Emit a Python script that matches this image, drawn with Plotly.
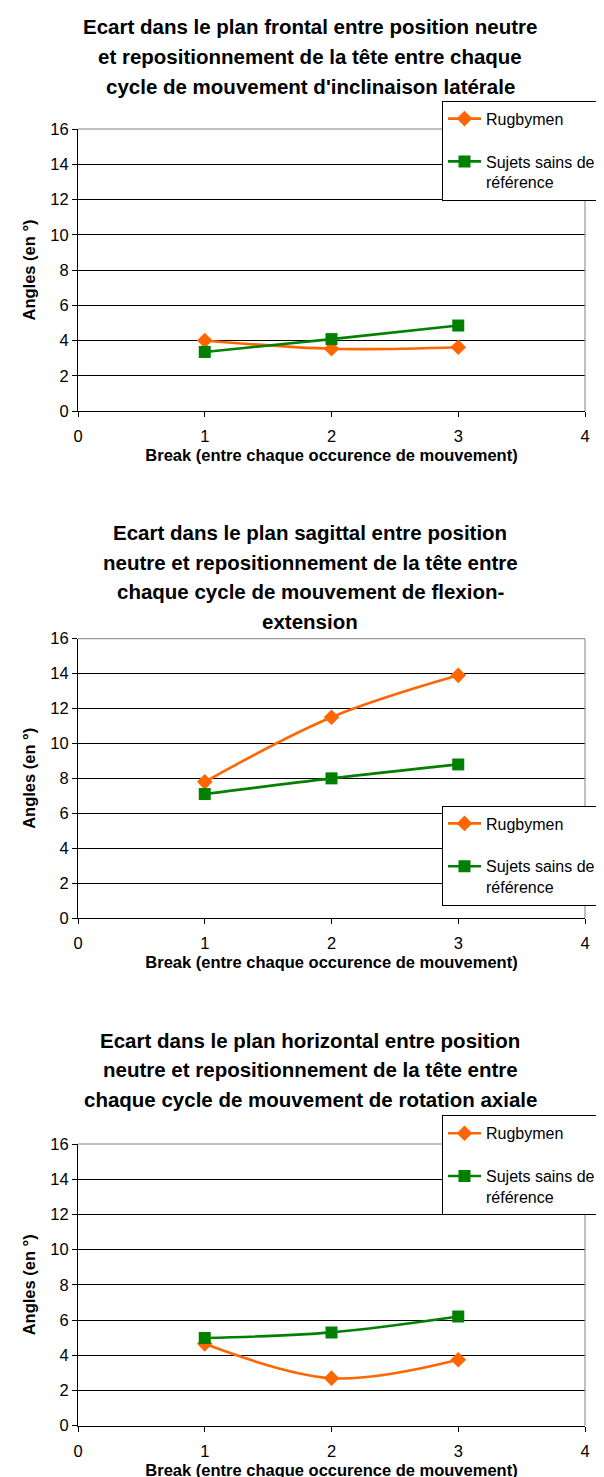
import plotly.graph_objects as go

W, H = 604, 1477
FONT = "Liberation Sans, Arial, sans-serif"

# ---- data ----
categories = [1, 2, 3]
x_ticks = [0, 1, 2, 3, 4]
y_ticks = [0, 2, 4, 6, 8, 10, 12, 14, 16]
series_names = ["Rugbymen", "Sujets sains de<br>référence"]

rugby_frontal = [4.0, 3.53, 3.62]
sains_frontal = [3.35, 4.08, 4.85]
rugby_sagittal = [7.8, 11.5, 13.9]
sains_sagittal = [7.1, 8.0, 8.8]
rugby_horizontal = [4.65, 2.7, 3.75]
sains_horizontal = [4.98, 5.3, 6.2]

titles = [
    ["Ecart dans le plan frontal entre position neutre",
     "et repositionnement de la tête entre chaque",
     "cycle de mouvement d'inclinaison latérale"],
    ["Ecart dans le plan sagittal entre position",
     "neutre et repositionnement de la tête entre",
     "chaque cycle de mouvement de flexion-",
     "extension"],
    ["Ecart dans le plan horizontal entre position",
     "neutre et repositionnement de la tête entre",
     "chaque cycle de mouvement de rotation axiale"],
]
x_title = "Break (entre chaque occurence de mouvement)"
y_title = "Angles (en °)"

panels = [
    (rugby_frontal, sains_frontal),
    (rugby_sagittal, sains_sagittal),
    (rugby_horizontal, sains_horizontal),
]

# ---- layout geometry (pixels) ----
plot_tb = [(121, 403), (630.7, 910), (1136, 1417.7)]
legend_top = [92.7, 797.5, 1107.3]
title_first = [19, 524.5, 1032]
title_step = 29.5
x_left, x_right = 70, 577

colors = ["#FF6600", "#008000"]
symbols = ["diamond", "square"]
msizes = [12, 12]

fig = go.Figure()
layout = dict(
    width=W, height=H,
    margin=dict(l=0, r=0, t=0, b=0, autoexpand=False),
    paper_bgcolor="white", plot_bgcolor="white",
    font=dict(family=FONT, color="black", size=16),
    showlegend=True,
    annotations=[], shapes=[],
)

for i, (rug, sains) in enumerate(panels):
    n = "" if i == 0 else str(i + 1)
    xa, ya = "x" + n, "y" + n
    leg = "legend" + n
    for j, vals in enumerate([rug, sains]):
        fig.add_trace(go.Scatter(
            x=categories, y=vals, name=series_names[j],
            xaxis=xa, yaxis=ya, legend=leg, legendgroup=f"g{i}{j}",
            mode="lines+markers",
            line=dict(color=colors[j], width=2.6, shape="spline", smoothing=1),
            marker=dict(color=colors[j], symbol=symbols[j], size=msizes[j],
                        line=dict(width=0)),
        ))
    top, bot = plot_tb[i]
    layout["xaxis" + n] = dict(
        domain=[x_left / W, x_right / W], anchor=ya,
        range=[0, 4], tickvals=x_ticks, ticks="outside", ticklen=5,
        tickcolor="black", showline=True, linecolor="black", linewidth=1,
        showgrid=False, zeroline=False, fixedrange=True,
        tickfont=dict(size=16.5), ticklabelstandoff=5,
        title=dict(text="<b>" + x_title + "</b>", font=dict(size=16.5), standoff=5),
    )
    layout["yaxis" + n] = dict(
        domain=[1 - bot / H, 1 - top / H], anchor=xa,
        range=[0, 16], tickvals=y_ticks, ticks="outside", ticklen=5,
        tickcolor="black", showline=True, linecolor="black", linewidth=1,
        showgrid=True, gridcolor="black", gridwidth=1, zeroline=False,
        fixedrange=True, tickfont=dict(size=16.5),
        title=dict(text="<b>" + y_title + "</b>", font=dict(size=16.5), standoff=10),
    )
    layout[leg] = dict(
        x=434 / W, y=1 - legend_top[i] / H, xanchor="left", yanchor="top",
        bordercolor="black", borderwidth=1, bgcolor="white",
        font=dict(size=16, family=FONT), traceorder="grouped",
        tracegroupgap=19, itemwidth=33, valign="top",
    )
    # gray plot-area border (top and right)
    layout["shapes"].append(dict(type="line", xref=xa + " domain", yref=ya + " domain",
                                 x0=0, x1=1, y0=1, y1=1, layer="above",
                                 line=dict(color="#808080", width=1)))
    layout["shapes"].append(dict(type="line", xref=xa + " domain", yref=ya + " domain",
                                 x0=1, x1=1, y0=0, y1=1, layer="above",
                                 line=dict(color="#808080", width=1)))
    for k, line in enumerate(titles[i]):
        layout["annotations"].append(dict(
            text="<b>" + line + "</b>", xref="paper", yref="paper",
            x=0.5, y=1 - (title_first[i] + k * title_step) / H,
            xanchor="center", yanchor="middle", showarrow=False,
            font=dict(size=20.5, family=FONT, color="black"),
        ))

fig.update_layout(**layout)
fig.write_html("out.html")
